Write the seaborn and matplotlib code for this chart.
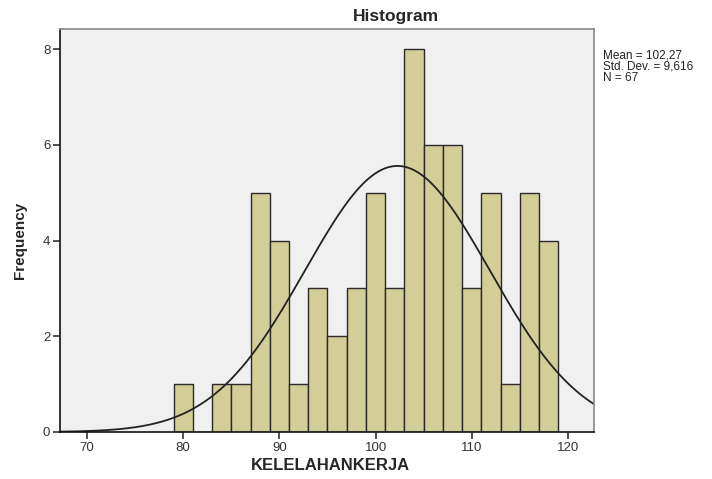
import numpy as np
import pandas as pd
import matplotlib
matplotlib.use("Agg")
import matplotlib.pyplot as plt
import seaborn as sns

# Data histogram (lebar bin 2)
bin_left = [79, 81, 83, 85, 87, 89, 91, 93, 95, 97, 99, 101, 103, 105, 107, 109, 111, 113, 115, 117]
counts = [1, 0, 1, 1, 5, 4, 1, 3, 2, 3, 5, 3, 8, 6, 6, 3, 5, 1, 5, 4]
mean_val = 102.27
std_val = 9.616
n_val = 67
bin_width = 2

df = pd.DataFrame({
    "KELELAHANKERJA": [b + bin_width / 2 for b in bin_left],
    "count": counts
})
edges = bin_left + [bin_left[-1] + bin_width]

sns.set_style("white")
plt.rcParams["font.family"] = ["Liberation Sans", "DejaVu Sans"]

fig = plt.figure(figsize=(7.12, 4.79), dpi=100)
ax = fig.add_axes([60 / 712, 47 / 479, 534 / 712, 403 / 479])
ax.set_facecolor("#f0f0f0")

sns.histplot(
    data=df, x="KELELAHANKERJA", weights="count", bins=edges,
    color="#d3ce97", edgecolor="#2a2a2a", linewidth=1.0, alpha=1.0, ax=ax
)

# Kurva normal
xmin, xmax = 67.2, 122.7
xs = np.linspace(xmin, xmax, 300)
ys = n_val * bin_width / (std_val * np.sqrt(2 * np.pi)) * np.exp(-0.5 * ((xs - mean_val) / std_val) ** 2)
ax.plot(xs, ys, color="#222222", linewidth=1.3)

ax.set_xlim(xmin, xmax)
ax.set_ylim(0, 8.42)
ax.set_xticks([70, 80, 90, 100, 110, 120])
ax.set_yticks([0, 2, 4, 6, 8])
ax.tick_params(axis="both", bottom=True, left=True, direction="out", length=5, width=1.2,
               colors="#333333", labelsize=9.5, labelcolor="#333333", pad=2)

for side in ["left", "bottom"]:
    ax.spines[side].set_color("#111111")
    ax.spines[side].set_linewidth(1.2)
for side in ["top", "right"]:
    ax.spines[side].set_color("#888888")
    ax.spines[side].set_linewidth(1.2)

ax.set_xlabel("")
ax.set_ylabel("")
fig.text(330 / 712, 1 - 466 / 479, "KELELAHANKERJA", ha="center", va="center",
         fontsize=12, fontweight="bold")
fig.text(20 / 712, 1 - 240 / 479, "Frequency", ha="center", va="center",
         rotation=90, fontsize=11, fontweight="bold")

fig.text(396 / 712, 1 - 16 / 479, "Histogram", ha="center", va="center",
         fontsize=12.5, fontweight="bold")

stats = f"Mean = {mean_val:.2f}\nStd. Dev. = {std_val:.3f}\nN = {n_val}".replace(".", ",").replace("Std, Dev,", "Std. Dev.")
fig.text(603 / 712, 1 - 49 / 479, stats, ha="left", va="top", fontsize=8.5,
         color="#222222", linespacing=0.95)

plt.savefig("out.png", dpi=100)
plt.close()
